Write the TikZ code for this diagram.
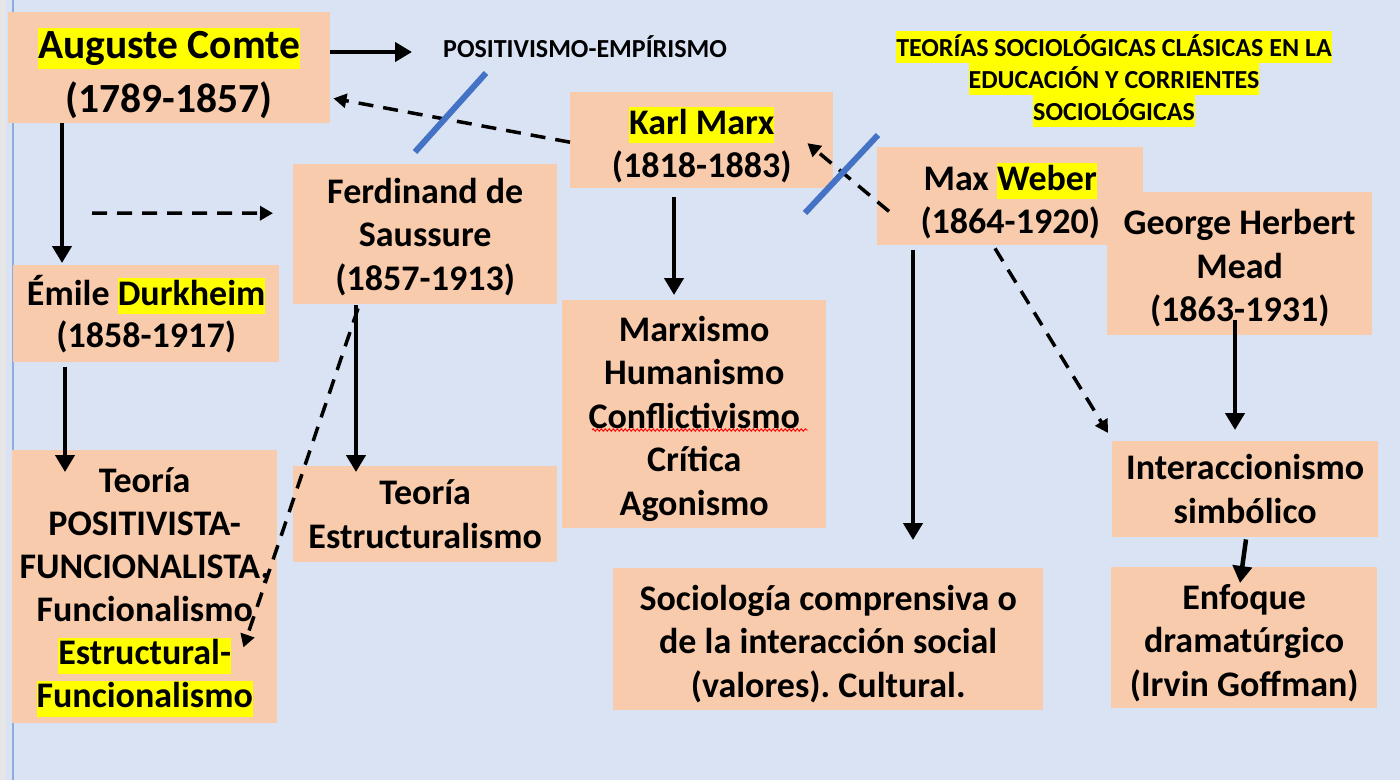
\documentclass[tikz,border=0pt]{standalone}
\usepackage{fontspec}
\setmainfont{Carlito}
\usetikzlibrary{arrows.meta,calc,decorations.pathmorphing}
\definecolor{bgc}{HTML}{DAE3F3}
\definecolor{boxc}{HTML}{F8CBAD}
\definecolor{slashc}{HTML}{4472C4}
\definecolor{edgec}{HTML}{8FAADC}
\definecolor{stripc}{HTML}{E6E6E6}
\definecolor{hly}{HTML}{FFFF00}
\newcommand\hlt[1]{{\setlength{\fboxsep}{0pt}\colorbox{hly}{\rule[-0.25em]{0pt}{1.0em}#1}}}
\newcommand\hltitle[1]{{\setlength{\fboxsep}{0pt}\colorbox{hly}{\rule[-7pt]{0pt}{32pt}#1}}}
\newcommand\fst[1]{\rule{0pt}{#1em}}
\setlength{\lineskiplimit}{-100pt}
\frenchspacing
\begin{document}
\setlength{\lineskiplimit}{-100pt}
\begin{tikzpicture}[x=1pt,y=-1pt,
  box/.style={fill=boxc, draw=none, inner sep=0pt, anchor=north west, align=center,
    font=\fontsize{36}{43.5}\selectfont\bfseries},
  arr/.style={line width=4.5pt, -{Triangle[width=19pt,length=17pt]}},
  darr/.style={line width=3.5pt, dash pattern=on 15pt off 10pt, -{Triangle[width=14pt,length=13pt]}},
  slash/.style={line width=6pt, slashc},
]
\useasboundingbox (0,0) rectangle (1400,780);
\fill[bgc] (0,0) rectangle (1400,780);
\fill[stripc] (0,0) rectangle (6,780);
\draw[edgec, line width=1.5pt] (13,0) -- (13,780);

% boxes
\node[box, minimum width=322pt, minimum height=111pt,
  font=\fontsize{41.5}{54}\selectfont\bfseries] (comte) at (8,12)
  {\fst{1.03}\hlt{Auguste Comte}\\(1789-1857)};
\node[box, minimum width=266pt, minimum height=97pt,
  font=\fontsize{36}{42}\selectfont\bfseries] (dur) at (13,265)
  {Émile \hlt{Durkheim}\\(1858-1917)};
\node[box, minimum width=265pt, minimum height=273pt,
  font=\fontsize{36}{43}\selectfont\bfseries] (teopf) at (12,450)
  {\fst{1.0}Teoría\\POSITIVISTA-\\FUNCIONALISTA,\\Funcionalismo\\\hlt{Estructural-}\\\hlt{Funcionalismo}};
\node[box, minimum width=264pt, minimum height=140pt] (sau) at (293,164)
  {\fst{0.85}Ferdinand de\\Saussure\\(1857-1913)};
\node[box, minimum width=264pt, minimum height=96pt] (teoe) at (293,466)
  {Teoría\\Estructuralismo};
\node[box, minimum width=263pt, minimum height=96pt] (marx) at (570,92)
  {\fst{1.02}\hlt{Karl Marx}\\(1818-1883)};
\node[box, minimum width=264pt, minimum height=228pt] (marxismo) at (562,300)
  {\fst{0.95}Marxismo\\Humanismo\\Conflictivismo\\Crítica\\Agonismo};
\node[box, minimum width=266pt, minimum height=98pt] (weber) at (877,147)
  {\fst{1.03}Max \hlt{Weber}\\(1864-1920)};
\node[box, minimum width=265pt, minimum height=143pt] (mead) at (1107,192)
  {\fst{0.95}George Herbert\\Mead\\(1863-1931)};
\node[box, minimum width=430pt, minimum height=142pt] (socio) at (613,568)
  {\fst{0.95}Sociología comprensiva o\\de la interacción social\\(valores). Cultural.};
\node[box, minimum width=266pt, minimum height=96pt] (inter) at (1112,441)
  {Interaccionismo\\simbólico};
\node[box, minimum width=266pt, minimum height=141pt] (enf) at (1111,567)
  {\fst{1.0}Enfoque\\dramatúrgico\\(Irvin Goffman)};

% free texts
\node[font=\fontsize{26}{31}\selectfont\bfseries, inner sep=0pt, anchor=west,
  text height=17pt, text depth=0pt] (posi) at (443,49) {POSITIVISMO-EMPÍRISMO};
\node[font=\fontsize{26}{32}\selectfont\bfseries, align=center,
  inner sep=0pt] (title) at (1114,79)
  {\hltitle{TEORÍAS SOCIOLÓGICAS CLÁSICAS EN LA}\\\hltitle{EDUCACIÓN Y CORRIENTES}\\\hltitle{SOCIOLÓGICAS}};

% wavy spelling underline
\draw[red, line width=0.9pt, decorate, decoration={snake, segment length=4pt, amplitude=1.2pt}]
  (592,430) -- (808,430);

% connectors
\draw[arr] ($(comte.north east)+(0,40)$) -- ($(posi.west)+(-31,3)$);
\draw[darr] ($(marx.west)+(0,2)$) -- ($(comte.south east)+(3,-25)$);
\draw[darr] ($(weber.south west)+(12,-34)$) -- ($(marx.east)+(-26,3)$);
\draw[arr] ($(comte.south west)+(54,0)$) -- ($(dur.north west)+(49,-2)$);
\coordinate (dfree) at (92,213);
\draw[darr] (dfree) -- ($(sau.west)+(-20,-21)$);
\draw[arr] ($(dur.south west)+(52,5)$) -- ($(teopf.north west)+(53,22)$);
\draw[arr] ($(sau.south west)+(63,1)$) -- ($(teoe.north west)+(63,6)$);
\draw[darr] ($(sau.south west)+(65,4)$) -- ($(teopf.south east)+(-34,-76)$);
\draw[arr] ($(marx.south west)+(104,9)$) -- ($(marxismo.north west)+(112,-5)$);
\draw[arr] ($(weber.south west)+(36,5)$) -- ($(socio.north west)+(300,-28)$);
\draw[darr] ($(weber.south west)+(118,3)$) -- ($(inter.north west)+(-4,-8)$);
\draw[arr] ($(mead.south west)+(128,-15)$) -- ($(inter.north west)+(123,-11)$);
\draw[arr] ($(inter.south west)+(134,2)$) -- ($(enf.north west)+(129,16)$);

% blue slashes
\draw[slash] (415,152) -- (486,73);
\draw[slash] (805,213) -- (878,135);
\end{tikzpicture}
\end{document}
